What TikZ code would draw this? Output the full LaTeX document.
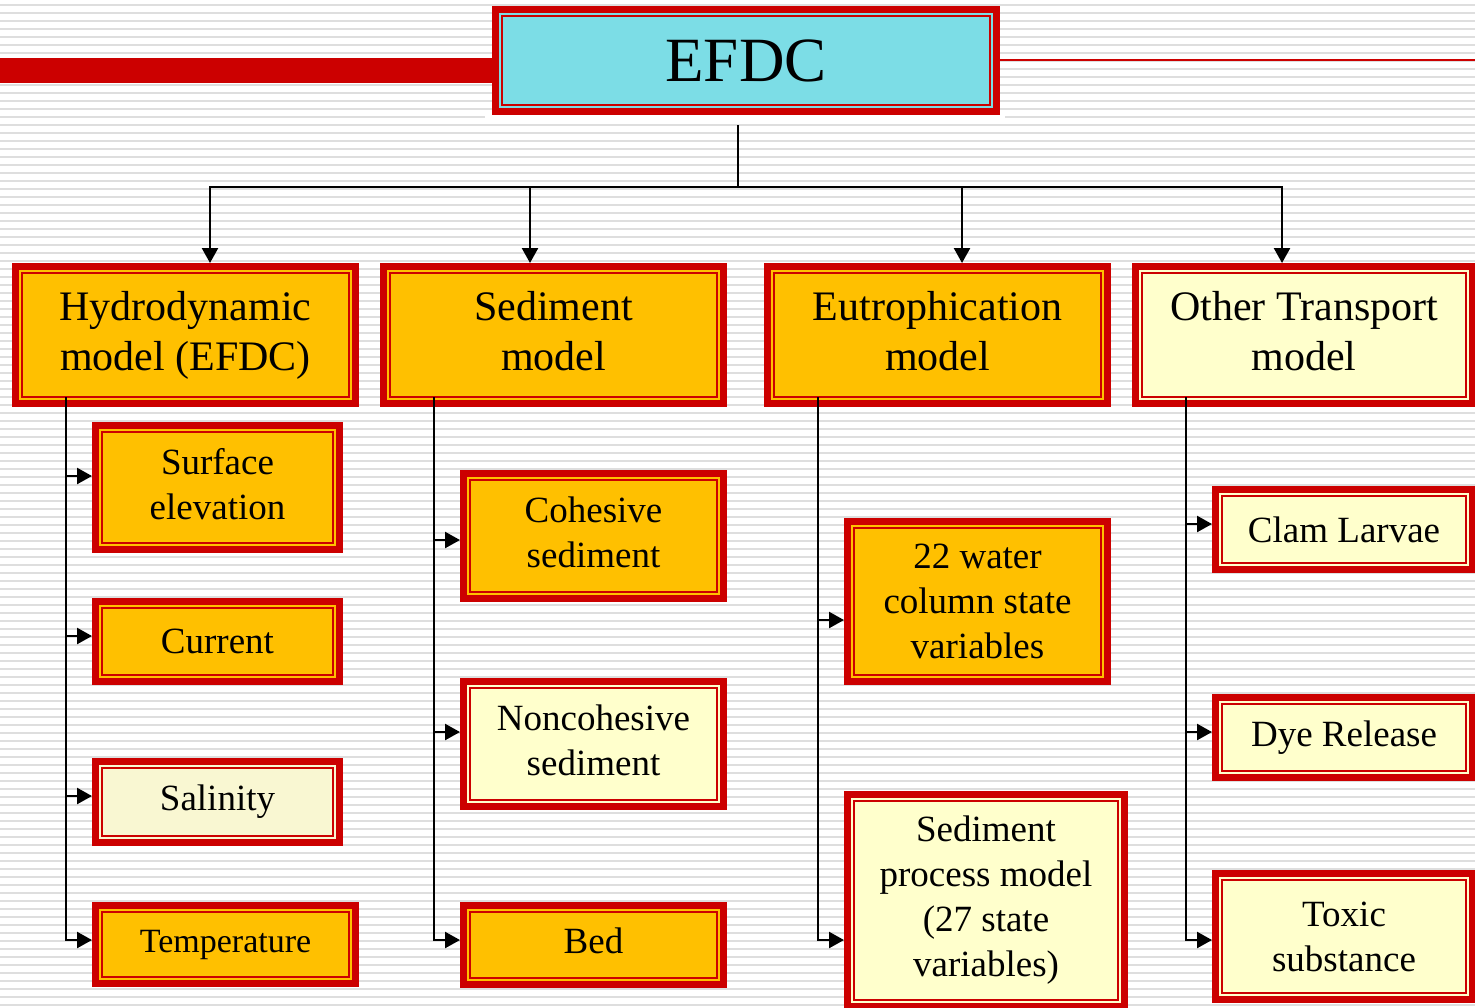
\documentclass[tikz,border=0pt]{standalone}
\usepackage{fontspec}
\setmainfont{Liberation Serif}
\usetikzlibrary{arrows.meta}
\definecolor{boxred}{RGB}{204,0,0}
\definecolor{orangefill}{RGB}{255,192,0}
\definecolor{creamfill}{RGB}{255,255,204}
\definecolor{salfill}{RGB}{249,247,210}
\definecolor{cyanfill}{RGB}{124,221,230}
\definecolor{bgline}{RGB}{222,222,222}
\tikzset{
  frame/.style={rectangle, fill=#1, draw=boxred, line width=3.5pt, outer sep=1.75pt,
    inner sep=0pt, align=center, text=black,
    path picture={\draw[boxred, line width=1pt]
      ([shift={(3.25pt,3.25pt)}]path picture bounding box.south west) rectangle
      ([shift={(-3.25pt,-3.25pt)}]path picture bounding box.north east);}},
  topfont/.style={font=\fontsize{21}{25}\selectfont},
  subfont/.style={font=\fontsize{18.5}{22.5}\selectfont},
  conn/.style={line width=1.2pt, black},
  arr/.style={conn, -{Triangle[width=8pt,length=7.5pt]}},
  bg/.style={bgline, line width=0.8pt}
}
\newcommand\mkbox[7]{\node[#6, minimum width={(#4-#2-7)*0.5pt}, minimum height={(#5-#3-7)*0.5pt}] (#1) at ({(#2+#4)/2},{(#3+#5)/2}) {#7};}
\newcommand\pdep{\vphantom{(}}
\begin{document}
\begin{tikzpicture}[x=0.5pt, y=-0.5pt]
\useasboundingbox (0,0) rectangle (1475,1007);
\clip (0,0) rectangle (1475,1007);
\fill[white] (0,0) rectangle (1475,1007);
\foreach \yy in {5,13,...,1005} \draw[bg] (0,\yy) -- (1475,\yy);
\fill[white] (485,115) rectangle (1005,124);
% title bars
\fill[boxred] (0,58) rectangle (494,83);
\draw[boxred, line width=1pt] (998,60) -- (1475,60);
% title
\mkbox{efdc}{492}{6}{1000}{115}{frame=cyanfill, font=\fontsize{31.5}{36}\selectfont}{EFDC}
% top level
\mkbox{hydro}{12}{263}{359}{407}{frame=orangefill, topfont}{Hydrodynamic\\model (EFDC)}
\mkbox{sed}{380}{263}{727}{407}{frame=orangefill, topfont}{Sediment\\model\pdep}
\mkbox{eut}{764}{263}{1111}{407}{frame=orangefill, topfont}{Eutrophication\\model\pdep}
\mkbox{oth}{1132}{263}{1476}{407}{frame=creamfill, topfont}{Other Transport\\model\pdep}
% column 1
\mkbox{surf}{92}{422}{343}{553}{frame=orangefill, subfont}{Surface\\elevation\pdep}
\mkbox{curr}{92}{598}{343}{685}{frame=orangefill, subfont}{Current}
\mkbox{sal}{92}{758}{343}{846}{frame=salfill, subfont}{Salinity}
\mkbox{temp}{92}{902}{359}{987}{frame=orangefill, font=\fontsize{17}{21}\selectfont}{Temperature}
% column 2
\mkbox{coh}{460}{470}{727}{602}{frame=orangefill, subfont}{Cohesive\\sediment\pdep}
\mkbox{nonc}{460}{678}{727}{810}{frame=creamfill, subfont}{Noncohesive\\sediment\pdep}
\mkbox{bed}{460}{902}{727}{988}{frame=orangefill, subfont}{Bed\pdep}
% column 3
\mkbox{wat}{844}{518}{1111}{685}{frame=orangefill, subfont}{22 water\\column state\\variables}
\mkbox{sproc}{844}{791}{1128}{1010}{frame=creamfill, subfont}{Sediment\\process model\\(27 state\\variables)}
% column 4
\mkbox{clam}{1212}{486}{1476}{573}{frame=creamfill, subfont}{Clam Larvae}
\mkbox{dye}{1212}{694}{1476}{781}{frame=creamfill, subfont}{Dye Release}
\mkbox{tox}{1212}{870}{1476}{1003}{frame=creamfill, subfont}{Toxic\\substance}
% connectors from title
\coordinate (trunk) at (738,125);
\coordinate (bus) at (738,187);
\draw[conn] (trunk) -- (bus);
\draw[arr] (bus) -| (hydro.north -| 210,0);
\draw[arr] (bus) -| (sed.north -| 530,0);
\draw[arr] (bus) -| (eut.north -| 962,0);
\draw[arr] (bus) -| (oth.north -| 1282,0);
% stems
\coordinate (s1) at (66,397);
\coordinate (s2) at (434,397);
\coordinate (s3) at (818,397);
\coordinate (s4) at (1186,397);
\draw[arr] (s1) |- (surf.west |- 0,476);
\draw[arr] (s1) |- (curr.west |- 0,636);
\draw[arr] (s1) |- (sal.west |- 0,796);
\draw[arr] (s1) |- (temp.west |- 0,940);
\draw[arr] (s2) |- (coh.west |- 0,540);
\draw[arr] (s2) |- (nonc.west |- 0,732);
\draw[arr] (s2) |- (bed.west |- 0,940);
\draw[arr] (s3) |- (wat.west |- 0,620);
\draw[arr] (s3) |- (sproc.west |- 0,940);
\draw[arr] (s4) |- (clam.west |- 0,524);
\draw[arr] (s4) |- (dye.west |- 0,732);
\draw[arr] (s4) |- (tox.west |- 0,940);
\end{tikzpicture}
\end{document}
